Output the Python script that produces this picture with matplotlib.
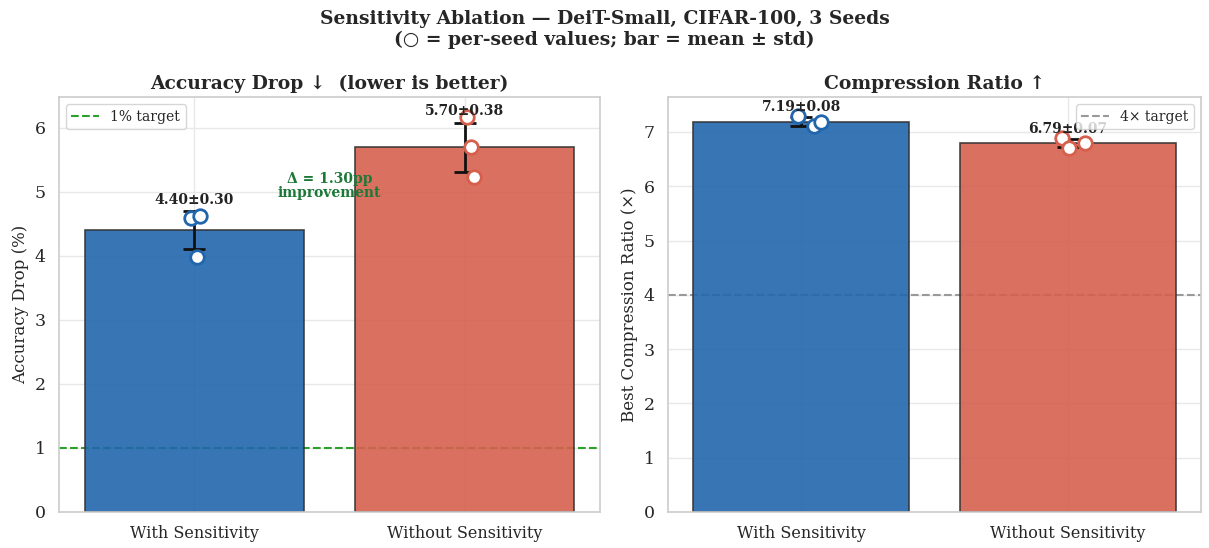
import matplotlib
matplotlib.use("Agg")
import matplotlib.pyplot as plt
import numpy as np
import seaborn as sns

# per-seed values
conditions = ["With Sensitivity", "Without Sensitivity"]
acc_drop_with = [4.60, 4.62, 3.98]
acc_drop_without = [6.17, 5.70, 5.23]
ratio_with = [7.29, 7.10, 7.18]
ratio_without = [6.88, 6.70, 6.79]

# small horizontal jitter of the seed markers
jitter_acc = [[-0.012, 0.020, 0.009], [0.007, 0.023, 0.034]]
jitter_ratio = [[-0.012, 0.049, 0.074], [-0.020, 0.004, 0.063]]

colors = ["#2166ac", "#d6604d"]

sns.set_theme(style="whitegrid")
plt.rcParams["font.family"] = ["DejaVu Serif"]
plt.rcParams["axes.edgecolor"] = "#cccccc"
plt.rcParams["grid.color"] = "#e8e8e8"


def draw_panel(ax, groups, jitters, ylim_top, label_offset):
    x = np.arange(len(groups))
    means = [np.mean(g) for g in groups]
    stds = [np.std(g) for g in groups]
    ax.bar(x, means, width=0.81, color=colors, alpha=0.9,
           edgecolor="#333333", linewidth=1.2, zorder=2)
    ax.errorbar(x, means, yerr=stds, fmt="none", ecolor="#111111",
                elinewidth=2, capsize=8, capthick=2, zorder=3)
    for i, g in enumerate(groups):
        ax.scatter(x[i] + np.array(jitters[i]), g, s=95, facecolor="white",
                   edgecolor=colors[i], linewidths=2, zorder=4)
        ax.text(x[i], means[i] + stds[i] + label_offset,
                f"{means[i]:.2f}±{stds[i]:.2f}", ha="center", va="bottom",
                fontsize=10, fontweight="bold", color="#222222", zorder=5)
    ax.set_xticks(x)
    ax.set_xticklabels(conditions, fontsize=11.5)
    ax.set_xlim(-0.5, 1.5)
    ax.set_ylim(0, ylim_top)
    ax.tick_params(axis="y", labelsize=12.5)
    for s in ax.spines.values():
        s.set_color("#cccccc")
        s.set_linewidth(1.2)
    return means


fig = plt.figure(figsize=(12.09, 5.48), dpi=100)
ax1 = fig.add_axes([0.0488, 0.0657, 0.4475, 0.757])
ax2 = fig.add_axes([0.5525, 0.0657, 0.4409, 0.757])

m_acc = draw_panel(ax1, [acc_drop_with, acc_drop_without], jitter_acc, 6.48, 0.07)
ax1.axhline(1, color="#2ca02c", linestyle="--", linewidth=1.5, label="1% target", zorder=1.5)
ax1.set_ylabel("Accuracy Drop (%)", fontsize=12)
ax1.set_title("Accuracy Drop ↓  (lower is better)", fontsize=13.5, fontweight="bold")
ax1.legend(loc="upper left", fontsize=10, frameon=True)
ax1.text(0.5, 5.1, f"Δ = {m_acc[1] - m_acc[0]:.2f}pp\nimprovement", ha="center",
         va="center", fontsize=10, fontweight="bold", color="#1b7837",
         linespacing=1.0, zorder=5)

draw_panel(ax2, [ratio_with, ratio_without], jitter_ratio, 7.64, 0.06)
ax2.axhline(4, color="#999999", linestyle="--", linewidth=1.5, label="4× target", zorder=1.5)
ax2.set_ylabel("Best Compression Ratio (×)", fontsize=12)
ax2.set_title("Compression Ratio ↑", fontsize=13.5, fontweight="bold")
ax2.legend(loc="upper right", fontsize=10, frameon=True)

fig.suptitle("Sensitivity Ablation — DeiT-Small, CIFAR-100, 3 Seeds\n"
             "(○ = per-seed values; bar = mean ± std)",
             fontsize=13.5, fontweight="bold", y=0.982)

fig.savefig("out.png", dpi=100)
